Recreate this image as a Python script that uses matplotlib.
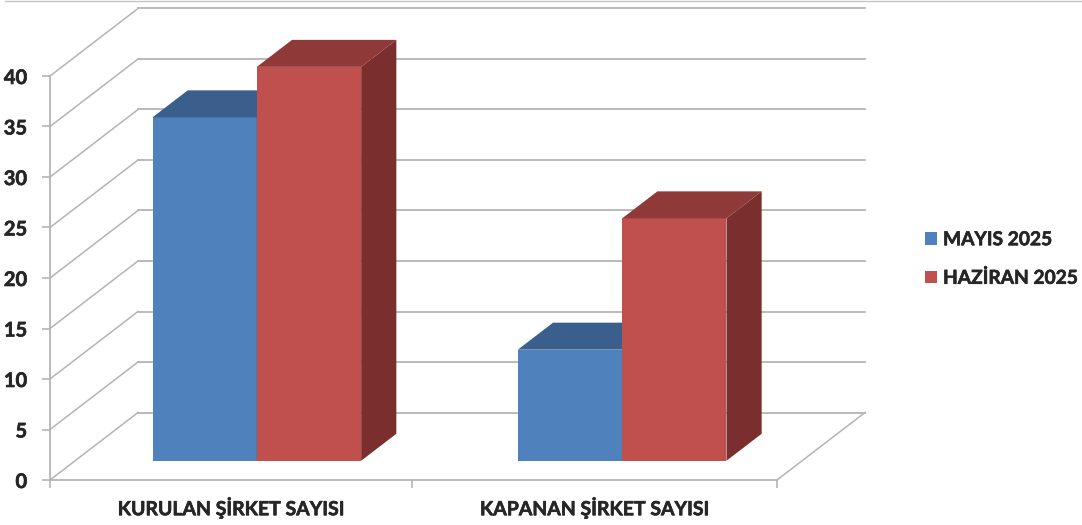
"""Excel style 3D clustered column chart, drawn on a plain 2D axes."""

import matplotlib.patheffects as pe
import matplotlib.pyplot as plt
from matplotlib.lines import Line2D
from matplotlib.patches import Patch, Polygon

categories = ["KURULAN ŞİRKET SAYISI", "KAPANAN ŞİRKET SAYISI"]
series_names = ["MAYIS 2025", "HAZİRAN 2025"]
mayis_values = [34, 11]
haziran_values = [39, 24]
y_ticks = [0, 5, 10, 15, 20, 25, 30, 35, 40]

FRONT = ["#4f81bd", "#c0504d"]
TOP = ["#3a5f8c", "#8f3a38"]
SIDE = ["#2f4f75", "#7a2f2e"]
GRID = "#b4b4b4"
TEXT = "#262626"

W, H = 1082, 525
X0, X1, Y0, Y40 = 50, 777, 480, 76
DEPTH_X = 88 / ((X1 - X0) / 2)  # back wall shift, in category units
DEPTH_Y = 67.5 / ((Y0 - Y40) / 40)  # back wall shift, in value units
BAR_W = 0.287
D_FRONT, D_BACK = 0.285, 0.685
GROUP_CENTERS = [0.5, 1.505]

plt.rcParams["font.family"] = ["Lato", "DejaVu Sans"]

# the reference text is heavier than Lato Bold
HEAVY = [pe.withStroke(linewidth=0.45, foreground=TEXT)]


def shift(x, y, depth):
    return x + depth * DEPTH_X, y + depth * DEPTH_Y


def draw_bar(ax, left, value, i):
    right = left + BAR_W
    pts = lambda corners: [shift(x, y, d) for x, y, d in corners]
    ax.add_patch(Polygon(pts([(left, 0, D_FRONT), (right, 0, D_FRONT), (right, value, D_FRONT), (left, value, D_FRONT)]),
                         fc=FRONT[i], ec="none", zorder=3, clip_on=False))
    ax.add_patch(Polygon(pts([(left, value, D_FRONT), (right, value, D_FRONT), (right, value, D_BACK), (left, value, D_BACK)]),
                         fc=TOP[i], ec="none", zorder=3, clip_on=False))
    ax.add_patch(Polygon(pts([(right, 0, D_FRONT), (right, 0, D_BACK), (right, value, D_BACK), (right, value, D_FRONT)]),
                         fc=SIDE[i], ec="none", zorder=3, clip_on=False))


def main():
    fig = plt.figure(figsize=(W / 100, H / 100), dpi=100)
    ax = fig.add_axes([X0 / W, 1 - Y0 / H, (X1 - X0) / W, (Y0 - Y40) / H])
    ax.set_xlim(0, 2)
    ax.set_ylim(0, 40)

    for v in y_ticks:
        bx, by = shift(0, v, 1)
        ax.plot([0, bx], [v, by], color=GRID, lw=1.1, clip_on=False, zorder=1)
        ax.plot([bx, shift(2, v, 1)[0]], [by, by], color=GRID, lw=1.3, clip_on=False, zorder=1)
    ax.plot([2, shift(2, 0, 1)[0]], [0, shift(2, 0, 1)[1]], color=GRID, lw=1.1, clip_on=False, zorder=1)

    for k, center in enumerate(GROUP_CENTERS):
        draw_bar(ax, center - BAR_W, mayis_values[k], 0)
        draw_bar(ax, center, haziran_values[k], 1)

    for name in ["top", "right"]:
        ax.spines[name].set_visible(False)
    for name in ["left", "bottom"]:
        ax.spines[name].set_color(GRID)
        ax.spines[name].set_linewidth(1.3)

    ax.set_yticks(y_ticks)
    ax.set_xticks([0, 0.995, 2])
    ax.set_xticklabels([])
    ax.tick_params(axis="both", color=GRID, length=5.5, width=1.2)
    ax.tick_params(axis="y", pad=11, labelsize=14.5, labelcolor=TEXT)
    for lab in ax.get_yticklabels():
        lab.set_fontweight("bold")
        lab.set_path_effects(HEAVY)
    for k, name in enumerate(categories):
        ax.annotate(name, (k + 0.5, 0), xytext=(0, -20), xycoords="data", textcoords="offset points",
                    ha="center", va="center", fontsize=14, fontweight="bold", color=TEXT, path_effects=HEAVY)

    handles = [Patch(fc=c, ec="none") for c in FRONT]
    leg = fig.legend(handles, series_names, loc="center left", bbox_to_anchor=(925 / W, 1 - 259 / H),
                     frameon=False, fontsize=13.8, handlelength=0.62, handleheight=0.62,
                     handletextpad=0.32, labelspacing=1.08, borderpad=0, borderaxespad=0)
    for t in leg.get_texts():
        t.set_fontweight("bold")
        t.set_color(TEXT)
        t.set_path_effects(HEAVY)

    # thin rule along the top edge of the page
    fig.add_artist(Line2D([5 / W, 1], [1 - 0.7 / H, 1 - 0.7 / H], color="#c4c4c4", lw=1))

    fig.savefig("out.png", dpi=100)
    plt.close(fig)


if __name__ == "__main__":
    main()
